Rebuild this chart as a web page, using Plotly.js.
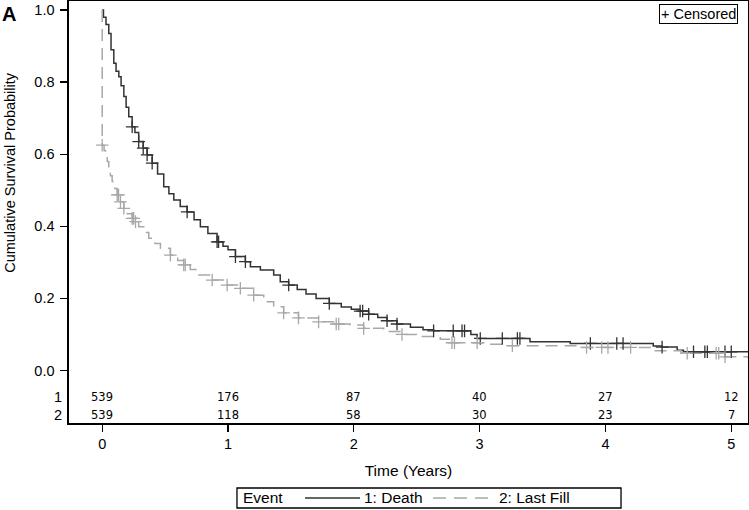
<!DOCTYPE html>
<html>
<head>
<meta charset="utf-8">
<script src="https://cdn.plot.ly/plotly-3.0.1.min.js"></script>
<style>html,body{margin:0;padding:0;background:#fff;}#chart{width:749px;height:510px;}</style>
</head>
<body>
<div id="chart"></div>
<script>
// ---- Data ----
const deathTime = [0, 0.01, 0.03, 0.052, 0.07, 0.092, 0.11, 0.132, 0.15, 0.172, 0.19, 0.211, 0.238, 0.26, 0.29, 0.326, 0.357, 0.397, 0.44, 0.489, 0.53, 0.569, 0.62, 0.675, 0.73, 0.78, 0.84, 0.913, 0.96, 1.0, 1.059, 1.138, 1.178, 1.257, 1.363, 1.415, 1.482, 1.55, 1.62, 1.70, 1.805, 1.90, 1.98, 2.05, 2.118, 2.19, 2.264, 2.343, 2.45, 2.55, 2.634, 2.93, 2.98, 3.4, 3.72, 4.38, 4.45, 4.57, 4.62, 5.133];
const deathSurv = [1.0, 0.98, 0.96, 0.935, 0.89, 0.852, 0.83, 0.815, 0.79, 0.76, 0.73, 0.704, 0.676, 0.66, 0.635, 0.617, 0.598, 0.575, 0.545, 0.51, 0.49, 0.473, 0.455, 0.44, 0.418, 0.399, 0.38, 0.357, 0.345, 0.335, 0.316, 0.302, 0.288, 0.279, 0.265, 0.246, 0.237, 0.225, 0.212, 0.2, 0.186, 0.176, 0.17, 0.165, 0.156, 0.147, 0.138, 0.129, 0.12, 0.113, 0.11, 0.1, 0.089, 0.08, 0.075, 0.068, 0.065, 0.056, 0.052, 0.052];
const deathCensTime = [0.238, 0.29, 0.326, 0.357, 0.397, 0.675, 0.913, 0.925, 1.059, 1.138, 1.482, 1.805, 2.05, 2.07, 2.118, 2.264, 2.343, 2.634, 2.79, 2.86, 2.88, 3.005, 3.18, 3.3, 3.32, 3.88, 4.09, 4.14, 4.45, 4.70, 4.79, 4.81, 4.95, 5.0];
const deathCensSurv = [0.676, 0.635, 0.617, 0.598, 0.575, 0.44, 0.357, 0.357, 0.316, 0.302, 0.237, 0.186, 0.165, 0.165, 0.156, 0.138, 0.129, 0.11, 0.11, 0.11, 0.11, 0.089, 0.089, 0.089, 0.089, 0.075, 0.075, 0.075, 0.065, 0.052, 0.052, 0.052, 0.052, 0.052];

const fillTime = [0, 0, 0.015, 0.026, 0.04, 0.052, 0.065, 0.079, 0.1, 0.119, 0.145, 0.172, 0.2, 0.238, 0.265, 0.29, 0.33, 0.37, 0.42, 0.463, 0.542, 0.6, 0.648, 0.7, 0.755, 0.874, 0.993, 1.098, 1.204, 1.284, 1.363, 1.442, 1.56, 1.72, 1.866, 1.97, 2.078, 2.237, 2.383, 2.5, 2.687, 2.79, 3.08, 3.2, 3.8, 4.38, 4.6, 4.95, 5.133];
const fillSurv = [1.0, 0.625, 0.61, 0.602, 0.58, 0.556, 0.54, 0.524, 0.505, 0.487, 0.468, 0.45, 0.435, 0.422, 0.413, 0.399, 0.383, 0.367, 0.352, 0.339, 0.32, 0.305, 0.293, 0.28, 0.265, 0.251, 0.237, 0.228, 0.209, 0.191, 0.177, 0.16, 0.146, 0.135, 0.129, 0.126, 0.117, 0.108, 0.1, 0.094, 0.087, 0.077, 0.073, 0.069, 0.064, 0.055, 0.048, 0.038, 0.034];
const fillCensTime = [0, 0.119, 0.13, 0.145, 0.172, 0.238, 0.25, 0.265, 0.542, 0.648, 0.66, 0.874, 0.993, 1.098, 1.204, 1.442, 1.56, 1.72, 1.86, 1.88, 2.078, 2.383, 2.78, 2.80, 2.98, 3.26, 3.85, 3.97, 4.02, 4.2, 4.65, 4.88, 4.9, 4.95];
const fillCensSurv = [0.625, 0.487, 0.487, 0.468, 0.45, 0.422, 0.422, 0.413, 0.32, 0.293, 0.293, 0.251, 0.237, 0.228, 0.209, 0.16, 0.146, 0.135, 0.129, 0.129, 0.117, 0.1, 0.077, 0.077, 0.077, 0.069, 0.064, 0.064, 0.064, 0.064, 0.048, 0.048, 0.048, 0.038];

const riskTimes = [0, 1, 2, 3, 4, 5];
const riskDeath = [539, 176, 87, 40, 27, 12];
const riskFill = [539, 118, 58, 30, 23, 7];
const rowLabels = ['1', '2'];
const seriesNames = ['1: Death', '2: Last Fill'];
const yTicks = [0, 0.2, 0.4, 0.6, 0.8, 1.0];
const xTicks = [0, 1, 2, 3, 4, 5];

// ---- Styles ----
const FONT = 'Liberation Sans, Arial, sans-serif';
const DARK = '#333333';
const GRAY = '#a8a8a8';
const DASH = '12px,7px';

const traces = [
  {x: deathTime, y: deathSurv, type: 'scatter', mode: 'lines', line: {shape: 'hv', color: DARK, width: 1.5}, name: seriesNames[0], showlegend: false},
  {x: fillTime, y: fillSurv, type: 'scatter', mode: 'lines', line: {shape: 'hv', color: GRAY, width: 1.5, dash: DASH}, name: seriesNames[1], showlegend: false},
  {x: deathCensTime, y: deathCensSurv, type: 'scatter', mode: 'markers', marker: {symbol: 'cross-thin', size: 9, line: {color: DARK, width: 1.3}}, showlegend: false, hoverinfo: 'skip'},
  {x: fillCensTime, y: fillCensSurv, type: 'scatter', mode: 'markers', marker: {symbol: 'cross-thin', size: 9, line: {color: GRAY, width: 1.3}}, showlegend: false, hoverinfo: 'skip'}
];

const rowY = [-0.0727, -0.1234];
const annotations = [];
[riskDeath, riskFill].forEach((row, r) => {
  row.forEach((v, i) => {
    annotations.push({x: riskTimes[i], y: rowY[r], xref: 'x', yref: 'y', text: String(v), showarrow: false, font: {family: 'DejaVu Sans, sans-serif', size: 11.5, color: '#000'}, xanchor: 'center', yanchor: 'middle'});
  });
  annotations.push({x: -0.007, y: rowY[r], xref: 'paper', yref: 'y', text: rowLabels[r], showarrow: false, font: {family: FONT, size: 14.5, color: '#000'}, xanchor: 'right', yanchor: 'middle'});
});
annotations.push({x: 0.985, y: 0.993, xref: 'paper', yref: 'paper', text: '+ Censored', showarrow: false, xanchor: 'right', yanchor: 'top', bordercolor: '#000', borderwidth: 1, borderpad: 1, bgcolor: '#fff', font: {family: FONT, size: 14.5, color: '#000'}});
annotations.push({x: -0.102, y: 1.0, xref: 'paper', yref: 'paper', text: '<b>A</b>', showarrow: false, xanchor: 'left', yanchor: 'top', font: {family: FONT, size: 20, color: '#000'}});
annotations.push({x: -0.087, y: 0.595, xref: 'paper', yref: 'paper', text: 'Cumulative Survival Probability', textangle: -90, showarrow: false, xanchor: 'center', yanchor: 'middle', font: {family: FONT, size: 14.5, color: '#000'}});

// Legend box (drawn as a framed key below the axis title)
const LEG_Y = -0.1777;
const legendFont = {family: FONT, size: 15.5, color: '#000'};
annotations.push({x: 0.2533, y: LEG_Y, xref: 'paper', yref: 'paper', text: 'Event', showarrow: false, xanchor: 'left', yanchor: 'middle', font: legendFont});
annotations.push({x: 0.432, y: LEG_Y, xref: 'paper', yref: 'paper', text: seriesNames[0], showarrow: false, xanchor: 'left', yanchor: 'middle', font: legendFont});
annotations.push({x: 0.6305, y: LEG_Y, xref: 'paper', yref: 'paper', text: seriesNames[1], showarrow: false, xanchor: 'left', yanchor: 'middle', font: legendFont});
const shapes = [
  {type: 'rect', xref: 'paper', yref: 'paper', x0: 0.2474, x1: 0.8130, y0: -0.2014, y1: -0.154, line: {color: '#000', width: 1.3}, fillcolor: 'rgba(0,0,0,0)'},
  {type: 'line', xref: 'paper', yref: 'paper', x0: 0.3476, x1: 0.4286, y0: LEG_Y, y1: LEG_Y, line: {color: DARK, width: 1.5}},
  {type: 'line', xref: 'paper', yref: 'paper', x0: 0.5361, x1: 0.6200, y0: LEG_Y, y1: LEG_Y, line: {color: GRAY, width: 1.5, dash: '13px,8px'}}
];

const layout = {
  width: 749, height: 510,
  margin: {l: 69, r: 1, t: 1, b: 87, pad: 0},
  paper_bgcolor: '#fff', plot_bgcolor: '#fff',
  font: {family: FONT, size: 14, color: '#000'},
  showlegend: false,
  xaxis: {
    range: [-0.264, 5.133], tickvals: xTicks, ticktext: xTicks.map(String),
    ticks: 'outside', ticklen: 7, tickwidth: 1.3, tickcolor: '#000',
    showline: true, linecolor: '#000', linewidth: 1.6, mirror: true,
    showgrid: false, zeroline: false,
    tickfont: {family: FONT, size: 14.5},
    title: {text: 'Time (Years)', font: {family: FONT, size: 15.5}, standoff: 14}
  },
  yaxis: {
    range: [-0.1456, 1.025], tickvals: yTicks, ticktext: yTicks.map(v => v.toFixed(1)),
    ticks: 'outside', ticklen: 7, tickwidth: 1.3, tickcolor: '#000',
    showline: true, linecolor: '#000', linewidth: 1.6, mirror: true,
    showgrid: false, zeroline: false,
    tickfont: {family: FONT, size: 14.5}, ticklabelstandoff: 3
  },
  annotations: annotations,
  shapes: shapes
};

Plotly.newPlot('chart', traces, layout, {staticPlot: true, displayModeBar: false});
</script>
</body>
</html>
